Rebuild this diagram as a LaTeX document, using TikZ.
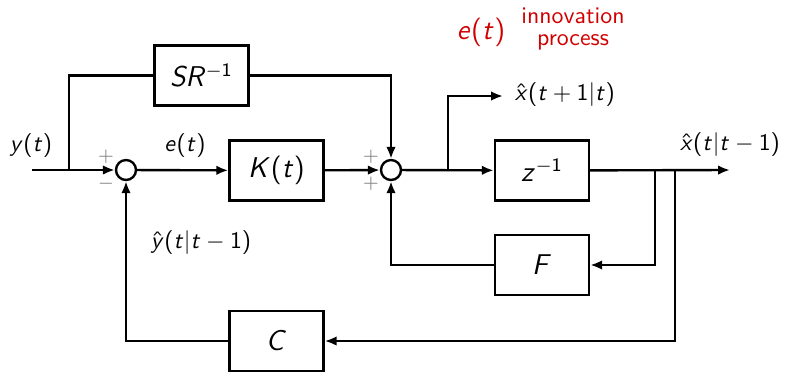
\documentclass[tikz,border=0pt]{standalone}
\usepackage{xcolor,tikz}
\usetikzlibrary{positioning,calc,arrows.meta}
% Sans serif math: digits and brackets upright, letters slanted
\DeclareSymbolFont{operators}{OT1}{cmss}{m}{n}
\DeclareSymbolFont{sfletters}{OT1}{cmss}{m}{sl}
\DeclareMathSymbol{C}{\mathalpha}{sfletters}{`C}
\DeclareMathSymbol{F}{\mathalpha}{sfletters}{`F}
\DeclareMathSymbol{K}{\mathalpha}{sfletters}{`K}
\DeclareMathSymbol{R}{\mathalpha}{sfletters}{`R}
\DeclareMathSymbol{S}{\mathalpha}{sfletters}{`S}
\DeclareMathSymbol{e}{\mathalpha}{sfletters}{`e}
\DeclareMathSymbol{t}{\mathalpha}{sfletters}{`t}
\DeclareMathSymbol{x}{\mathalpha}{sfletters}{`x}
\DeclareMathSymbol{y}{\mathalpha}{sfletters}{`y}
\DeclareMathSymbol{z}{\mathalpha}{sfletters}{`z}
\definecolor{kfRedText}{HTML}{D00000}
\definecolor{kfGreySign}{HTML}{7A7A7A}
\definecolor{kfBlackLine}{HTML}{000000}
\tikzset{
  block node/.style={
    rectangle, draw=kfBlackLine, fill=white,
    line width=1pt, minimum width=39.5pt, minimum height=25.2pt,
    font=\large, inner sep=0pt,
  },
  sum node/.style={
    circle, draw=kfBlackLine, fill=white,
    line width=1pt, minimum size=8.4pt, inner sep=0pt,
  },
  signal edge/.style={
    line width=1pt, color=kfBlackLine,
    -{Latex[length=5pt,width=4pt]},
  },
  plain edge/.style={
    line width=1pt, color=kfBlackLine,
  },
  sign label/.style={
    font=\footnotesize, text=kfGreySign, inner sep=0pt,
  },
  signal label/.style={
    font=\normalsize, inner sep=1pt,
  },
}

\begin{document}
\begin{tikzpicture}[x=0.42pt, y=-0.42pt]
\sffamily
\useasboundingbox (0,0) rectangle (788,371);

% Blocks and summing junctions
\node[sum node]   (s1) at (126,170) {};
\node[sum node]   (s2) at (391,170) {};
\node[block node] (sr) at (201.5,75.5) {$SR^{-1}$};
\node[block node] (k)  at (276.5,170.5) {$K(t)$};
\node[block node] (z)  at (542,170.5) {$z^{-1}$};
\node[block node] (f)  at (542,265) {$F$};
\node[block node] (c)  at (276.5,341) {$C$};

% Free ends and branch points
\coordinate (in)  at (32,170);
\coordinate (br1) at (69,170);
\coordinate (br2) at (448,170);
\coordinate (br3) at (655,170);
\coordinate (br4) at (675,170);
\coordinate (xp)  at (503,96);
\coordinate (out) at (730,170);

% Forward path
\draw[signal edge] (in) -- (s1);
\draw[signal edge] (s1) -- (k);
\draw[signal edge] (k) -- (s2);
\draw[signal edge] (s2) -- (z);
\draw[signal edge] (z) -- (out);
% Feedthrough via SR^{-1}
\draw[plain edge]  (br1) |- (sr);
\draw[signal edge] (sr) -| (s2);
% Prediction output
\draw[signal edge] (br2) |- (xp);
% State feedback loops
\draw[signal edge] (br3) |- (f);
\draw[signal edge] (f) -| (s2);
\draw[signal edge] (br4) |- (c);
\draw[signal edge] (c) -| (s1);

% Signs at the junctions
\foreach \x/\y/\sgn in {106/157/+, 106/184/-, 371/157/+, 371/184/+} {
  \node[sign label] at (\x,\y) {$\sgn$};
}

% Signal labels
\node[signal label] (yl)  at (31,146)  {$y(t)$};
\node[signal label] (el)  at (185,146) {$e(t)$};
\node[signal label] (yhl) at (201,243) {$\hat{y}(t|t-1)$};
\node[signal label, anchor=west] (xpl) at (512,95) {$\hat{x}(t+1|t)$};
\node[signal label] (xol) at (730,145) {$\hat{x}(t|t-1)$};
% Innovation note
\node[signal label, font=\large, text=kfRedText] (er) at (481,32) {$e(t)$};
\node[signal label, text=kfRedText, align=center] (inn) at (573,29)
  {innovation\\[-3pt]process};

\end{tikzpicture}
\end{document}
